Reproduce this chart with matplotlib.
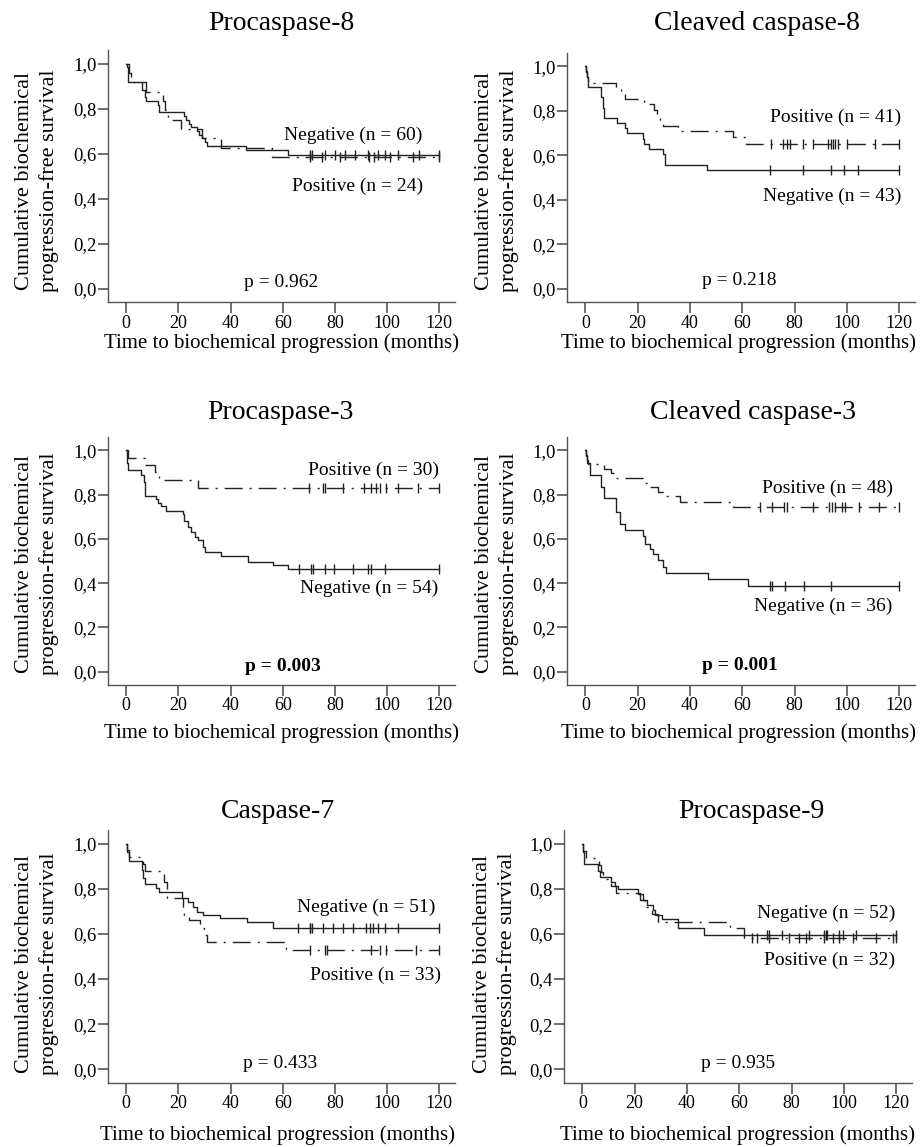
import matplotlib.pyplot as plt
import numpy as np

plt.rcParams['font.family'] = ['Liberation Serif', 'DejaVu Serif']

W, H = 921, 1147

titles = ['Procaspase-8', 'Cleaved caspase-8', 'Procaspase-3',
          'Cleaved caspase-3', 'Caspase-7', 'Procaspase-9']
n_neg = [60, 43, 54, 36, 51, 52]
n_pos = [24, 41, 30, 48, 33, 32]
p_values = ['0.962', '0.218', '0.003', '0.001', '0.433', '0.935']
p_bold = [False, False, True, True, False, False]

# Negative group (solid line): event times (months) and survival after each step
neg_t = [
    [0.3, 0.5, 0.8, 6.0, 7.0, 7.5, 12, 12.5, 22, 23, 24, 25, 27, 28, 29, 30, 31, 46, 62],
    [0.3, 0.6, 0.9, 6.0, 6.6, 7.3, 12, 15, 16, 22, 22.5, 24.5, 29.5, 30.5, 46.6],
    [0.3, 0.6, 5.7, 6.7, 7.3, 11.5, 12.3, 13.4, 15.3, 21.7, 22.3, 23.6, 24.9, 26.2,
     27.5, 29.4, 30.0, 36.4, 46.6, 56.2, 61.9],
    [0.3, 0.5, 1.6, 6.1, 7.2, 11.9, 13.2, 15.1, 22.1, 22.7, 24.6, 25.9, 27.8, 29.7,
     30.7, 46.7, 62.3],
    [0.3, 0.9, 6.0, 6.4, 7.3, 11.5, 12.4, 21.3, 23.8, 25.7, 27.0, 29.6, 35.9, 46.1, 56.3],
    [0.3, 0.6, 6.0, 6.6, 11.1, 12.4, 13.7, 21.4, 23.3, 24.6, 27.1, 27.8, 30.3, 36.7, 46.5],
]
neg_s = [
    [0.983, 0.95, 0.917, 0.883, 0.85, 0.833, 0.817, 0.783, 0.767, 0.75, 0.733, 0.717,
     0.70, 0.683, 0.667, 0.65, 0.633, 0.614, 0.595],
    [0.977, 0.953, 0.907, 0.860, 0.814, 0.767, 0.744, 0.721, 0.698, 0.674, 0.651,
     0.628, 0.605, 0.558, 0.535],
    [0.944, 0.911, 0.889, 0.859, 0.793, 0.778, 0.763, 0.748, 0.726, 0.711, 0.681,
     0.652, 0.630, 0.607, 0.593, 0.563, 0.541, 0.521, 0.496, 0.481, 0.464],
    [0.972, 0.944, 0.889, 0.833, 0.785, 0.722, 0.667, 0.640, 0.615, 0.578, 0.556,
     0.533, 0.504, 0.474, 0.444, 0.418, 0.389],
    [0.961, 0.922, 0.882, 0.847, 0.820, 0.802, 0.785, 0.761, 0.743, 0.720, 0.698,
     0.683, 0.669, 0.651, 0.627],
    [0.962, 0.908, 0.880, 0.851, 0.828, 0.812, 0.80, 0.778, 0.749, 0.727, 0.705,
     0.683, 0.664, 0.625, 0.597],
]
neg_cens = [
    [70.3, 71.0, 76.0, 79.9, 83.7, 87.5, 92.6, 96.4, 99.0, 104.0, 112.3, 120],
    [70.5, 83.3, 93.9, 99.0, 104.1, 120],
    [66.2, 70.9, 71.5, 76.0, 79.8, 86.8, 92.6, 93.9, 99.0, 120],
    [70.6, 71.2, 76.4, 83.4, 94.0, 120],
    [65.9, 70.3, 70.6, 71.0, 75.4, 79.2, 83.1, 86.9, 92.0, 93.3, 94.6, 96.4, 99.0, 104.1, 120],
    [70.7, 71.5, 76.4, 86.7, 92.3, 93.0, 93.6, 98.2, 99.5, 104.6, 120],
]

# Positive group (dash-dot line)
pos_t = [
    [1.0, 2.0, 7.5, 14, 15, 16, 21, 29, 36.5, 55.7],
    [0.3, 0.6, 1.2, 11.7, 13.5, 15, 22.6, 26.4, 27.5, 28.5, 29.6, 35.4, 56.4, 61.6],
    [0.5, 7.0, 11.0, 12.5, 27.5],
    [0.3, 0.6, 1.0, 7.0, 10.0, 11.2, 22.7, 24.5, 27.8, 29.5, 36.0, 56.6],
    [0.3, 1.0, 6.4, 7.2, 14.3, 15.5, 21.7, 22.2, 24.0, 28.3, 29.8, 30.8, 61.4],
    [0.3, 1.5, 6.5, 7.0, 8.0, 11.0, 13.0, 22.0, 24.0, 26.5, 29.0, 56.5, 61.7],
]
pos_s = [
    [0.958, 0.917, 0.875, 0.833, 0.792, 0.75, 0.708, 0.667, 0.625, 0.583],
    [0.976, 0.951, 0.927, 0.902, 0.878, 0.854, 0.829, 0.805, 0.780, 0.756, 0.732,
     0.707, 0.683, 0.650],
    [0.967, 0.933, 0.90, 0.867, 0.830],
    [0.979, 0.958, 0.938, 0.917, 0.896, 0.875, 0.854, 0.833, 0.813, 0.792, 0.767, 0.745],
    [0.970, 0.940, 0.910, 0.877, 0.830, 0.760, 0.720, 0.683, 0.660, 0.624, 0.594,
     0.565, 0.527],
    [0.969, 0.938, 0.906, 0.875, 0.844, 0.813, 0.781, 0.75, 0.719, 0.688, 0.652,
     0.625, 0.583],
]
pos_cens = [
    [70.5, 75.0, 82.0, 93.0, 95.0, 101.0, 110.0, 120],
    [71.1, 75.6, 76.9, 78.2, 83.3, 87.1, 92.8, 93.8, 94.7, 95.6, 96.6, 99.9, 110.7, 120],
    [70.2, 75.4, 76.3, 83.0, 91.3, 93.9, 95.8, 97.1, 99.6, 104.0, 111.7, 120],
    [66.8, 71.3, 75.8, 77.0, 87.2, 93.0, 94.3, 95.5, 98.1, 99.4, 104.5, 112.1, 120],
    [70.3, 76.1, 77.0, 93.9, 97.1, 99.6, 111.1, 120],
    [64.9, 66.8, 71.3, 79.0, 82.8, 85.4, 92.5, 95.7, 98.2, 103.4, 112.3, 118.7, 120],
]

# layout (pixels, from top-left)
boxes = [(108, 50, 455, 302), (567, 53, 915, 302),
         (108, 437, 455, 685), (567, 437, 915, 685),
         (108, 830, 455, 1083), (564, 830, 912, 1083)]
title_xy = [(281, 24), (757, 24), (280, 413), (753, 413), (278, 812), (751, 812)]
xlab_xy = [(281, 343), (738, 343), (281, 733), (738, 733), (277, 1135), (737, 1135)]
ylab_xy = [(37, 181), (497, 181), (37, 564), (497, 564), (37, 964), (495, 964)]
neg_lab_xy = [(86.9, 0.681), (94.2, 0.415), (93.2, 0.378), (91.0, 0.296), (92.0, 0.716), (93.1, 0.69)]
pos_lab_xy = [(88.8, 0.456), (95.7, 0.77), (94.7, 0.911), (92.6, 0.827), (95.4, 0.416), (94.6, 0.485)]
p_xy = [(59.5, 0.025), (59, 0.037), (60, 0.025), (59.1, 0.027), (58.9, 0.027), (59.4, 0.026)]

line_col = '#222222'
spine_col = '#555555'


def fx(px):
    return px / W


def fy(py):
    return 1 - py / H


def km(ax, t, s, cens, ls):
    tt = np.r_[0, t, 120]
    ss = np.r_[1.0, s, s[-1]]
    ax.step(tt, ss, where='post', color=line_col, lw=1.0, linestyle=ls)
    ct = np.array(cens)
    cs = ss[np.searchsorted(tt, ct, side='right') - 1]
    ax.plot(ct, cs, '|', color=line_col, ms=7, mew=1.0)


fig = plt.figure(figsize=(W / 100, H / 100), dpi=100)

for i in range(6):
    l, t, r, b = boxes[i]
    ax = fig.add_axes([fx(l), fy(b), (r - l) / W, (b - t) / H])

    km(ax, neg_t[i], neg_s[i], neg_cens[i], '-')
    km(ax, pos_t[i], pos_s[i], pos_cens[i], (0, (13, 5, 1.5, 5)))

    ax.set_xlim(-7, 126)
    ax.set_ylim(-0.06, 1.06)
    ax.set_xticks(np.arange(0, 121, 20))
    yt = np.arange(0, 1.01, 0.2)
    ax.set_yticks(yt)
    ax.set_yticklabels([('%.1f' % v).replace('.', ',') for v in yt])
    for side in ['top', 'right']:
        ax.spines[side].set_visible(False)
    for side in ['left', 'bottom']:
        ax.spines[side].set_color(spine_col)
        ax.spines[side].set_linewidth(1.0)
    ax.tick_params(axis='x', length=8, width=1.2, color=spine_col, pad=1, labelsize=13)
    ax.tick_params(axis='y', length=7, width=1.2, color=spine_col, pad=1, labelsize=13.5)

    ax.text(*neg_lab_xy[i], 'Negative (n = %d)' % n_neg[i], ha='center', va='center', fontsize=14)
    ax.text(*pos_lab_xy[i], 'Positive (n = %d)' % n_pos[i], ha='center', va='center', fontsize=14)
    ax.text(*p_xy[i], 'p = ' + p_values[i], ha='center', va='center', fontsize=14,
            fontweight='bold' if p_bold[i] else 'normal')

    ax.set_xlabel('Time to biochemical progression (months)', fontsize=15, va='center')
    ax.xaxis.set_label_coords(fx(xlab_xy[i][0]), fy(xlab_xy[i][1]), transform=fig.transFigure)
    ax.set_ylabel('Cumulative biochemical\nprogression-free survival', fontsize=16,
                  linespacing=1.35, va='center')
    ax.yaxis.set_label_coords(fx(ylab_xy[i][0]), fy(ylab_xy[i][1]), transform=fig.transFigure)

    fig.text(fx(title_xy[i][0]), fy(title_xy[i][1]), titles[i], ha='center', va='center',
             fontsize=20)

fig.savefig('out.png', dpi=100, facecolor='white')
